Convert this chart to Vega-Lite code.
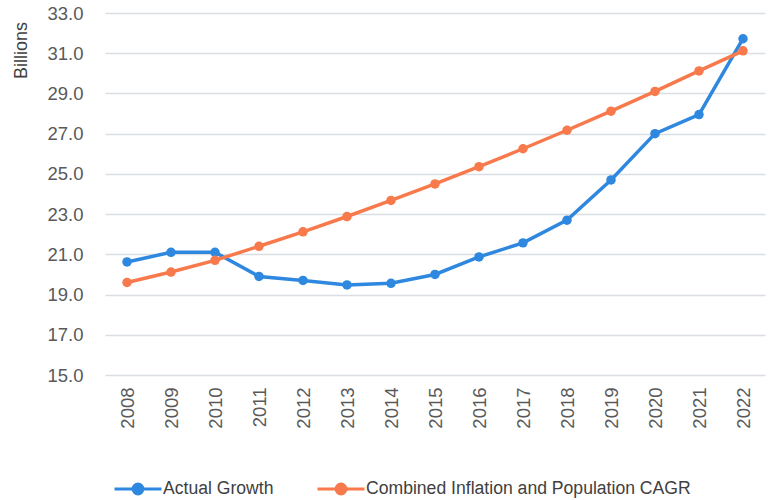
{
  "$schema": "https://vega.github.io/schema/vega-lite/v6.json",
  "autosize": "none",
  "width": 660,
  "height": 362,
  "padding": {"left": 105, "top": 13, "right": 4, "bottom": 125},
  "background": "white",
  "config": {
    "view": {"stroke": null},
    "font": "Liberation Sans",
    "axis": {"labelFont": "Liberation Sans", "labelColor": "#595959", "labelFontSize": 18.5, "titleFont": "Liberation Sans"}
  },
  "data": {
    "values": [
      {"year": "2008", "series": "Actual Growth", "value": 20.62},
      {"year": "2009", "series": "Actual Growth", "value": 21.1},
      {"year": "2010", "series": "Actual Growth", "value": 21.1},
      {"year": "2011", "series": "Actual Growth", "value": 19.9},
      {"year": "2012", "series": "Actual Growth", "value": 19.7},
      {"year": "2013", "series": "Actual Growth", "value": 19.48},
      {"year": "2014", "series": "Actual Growth", "value": 19.56},
      {"year": "2015", "series": "Actual Growth", "value": 20.0},
      {"year": "2016", "series": "Actual Growth", "value": 20.87},
      {"year": "2017", "series": "Actual Growth", "value": 21.57},
      {"year": "2018", "series": "Actual Growth", "value": 22.7},
      {"year": "2019", "series": "Actual Growth", "value": 24.7},
      {"year": "2020", "series": "Actual Growth", "value": 27.0},
      {"year": "2021", "series": "Actual Growth", "value": 27.95},
      {"year": "2022", "series": "Actual Growth", "value": 31.72},
      {"year": "2008", "series": "Combined Inflation and Population CAGR", "value": 19.6},
      {"year": "2009", "series": "Combined Inflation and Population CAGR", "value": 20.12},
      {"year": "2010", "series": "Combined Inflation and Population CAGR", "value": 20.7},
      {"year": "2011", "series": "Combined Inflation and Population CAGR", "value": 21.4},
      {"year": "2012", "series": "Combined Inflation and Population CAGR", "value": 22.12},
      {"year": "2013", "series": "Combined Inflation and Population CAGR", "value": 22.88},
      {"year": "2014", "series": "Combined Inflation and Population CAGR", "value": 23.68},
      {"year": "2015", "series": "Combined Inflation and Population CAGR", "value": 24.5},
      {"year": "2016", "series": "Combined Inflation and Population CAGR", "value": 25.36},
      {"year": "2017", "series": "Combined Inflation and Population CAGR", "value": 26.25},
      {"year": "2018", "series": "Combined Inflation and Population CAGR", "value": 27.17},
      {"year": "2019", "series": "Combined Inflation and Population CAGR", "value": 28.12},
      {"year": "2020", "series": "Combined Inflation and Population CAGR", "value": 29.1},
      {"year": "2021", "series": "Combined Inflation and Population CAGR", "value": 30.12},
      {"year": "2022", "series": "Combined Inflation and Population CAGR", "value": 31.12}
    ]
  },
  "encoding": {
    "x": {
      "field": "year", "type": "ordinal",
      "scale": {"type": "point", "padding": 0.5},
      "axis": {"title": null, "labelAngle": -90, "labelAlign": "right", "labelBaseline": "middle", "labelPadding": 12, "domain": false, "ticks": false, "grid": false}
    },
    "y": {
      "field": "value", "type": "quantitative",
      "scale": {"domain": [15, 33], "nice": false, "zero": false},
      "axis": {
        "values": [15, 17, 19, 21, 23, 25, 27, 29, 31, 33],
        "format": ".1f",
        "title": "Billions",
        "titleFontSize": 18,
        "titleFontWeight": "normal",
        "titleColor": "#404040",
        "titleAngle": -90,
        "titleX": -84,
        "titleY": 37,
        "titleAlign": "center",
        "titleBaseline": "middle",
        "domain": false,
        "ticks": false,
        "labelPadding": 22,
        "gridColor": "#dadde1",
        "gridWidth": 1.6
      }
    },
    "color": {
      "field": "series", "type": "nominal",
      "scale": {"domain": ["Actual Growth", "Combined Inflation and Population CAGR"], "range": ["#2F88DF", "#F87A4C"]},
      "legend": {
        "title": null,
        "orient": "none",
        "direction": "horizontal",
        "legendX": 8,
        "legendY": 451,
        "symbolType": "M-1,0L-0.21,0M0.21,0L1,0M-0.21,0A0.21,0.21 0 1,1 0.21,0A0.21,0.21 0 1,1 -0.21,0Z",
        "symbolSize": 2209,
        "symbolStrokeWidth": 3,
        "labelFontSize": 17.6,
        "labelColor": "#404040",
        "labelOffset": 0,
        "labelLimit": 500,
        "columnPadding": 37,
        "encode": {"symbols": {"update": {"fill": {"scale": "color", "field": "value"}, "fillOpacity": {"value": 1}}}}
      }
    }
  },
  "layer": [
    {"mark": {"type": "line", "strokeWidth": 3.5}},
    {"mark": {"type": "point", "filled": true, "size": 90, "opacity": 1}}
  ]
}
